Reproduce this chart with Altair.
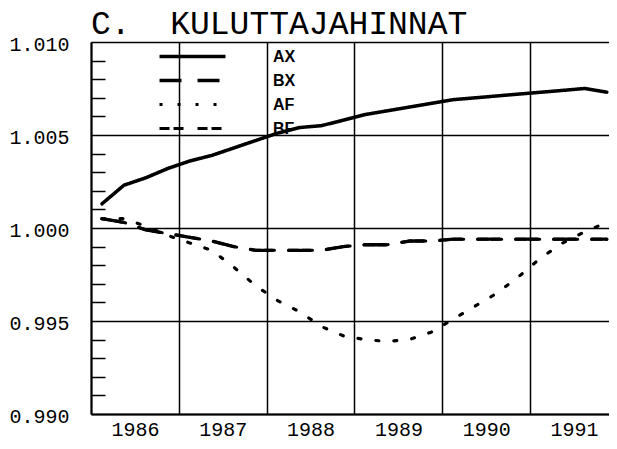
import altair as alt
import pandas as pd

# quarterly observation times (mid-quarter), 1986Q1 .. 1991Q4
periods = [1986.125, 1986.375, 1986.625, 1986.875,
           1987.125, 1987.375, 1987.625, 1987.875,
           1988.125, 1988.375, 1988.625, 1988.875,
           1989.125, 1989.375, 1989.625, 1989.875,
           1990.125, 1990.375, 1990.625, 1990.875,
           1991.125, 1991.375, 1991.625, 1991.875]

series = ["AX", "BX", "AF", "BF"]

ax = [1.0013, 1.0023, 1.0027, 1.0032, 1.0036, 1.0039, 1.0043, 1.0047,
      1.0051, 1.0054, 1.0055, 1.0058, 1.0061, 1.0063, 1.0065, 1.0067,
      1.0069, 1.0070, 1.0071, 1.0072, 1.0073, 1.0074, 1.0075, 1.0073]
bx = [1.0005, 1.0003, 0.9999, 0.9997, 0.9995, 0.9993, 0.9990, 0.9988,
      0.9988, 0.9988, 0.9988, 0.9990, 0.9991, 0.9991, 0.9993, 0.9993,
      0.9994, 0.9994, 0.9994, 0.9994, 0.9994, 0.9994, 0.9994, 0.9994]
af = [1.0005, 1.0005, 1.0001, 0.9996, 0.9992, 0.9988, 0.9979, 0.9969,
      0.9961, 0.9955, 0.9947, 0.9942, 0.9940, 0.9939, 0.9940, 0.9944,
      0.9951, 0.9958, 0.9965, 0.9974, 0.9984, 0.9992, 0.9998, 1.0003]
bf = [1.0005, 1.0003, 0.9999, 0.9997, 0.9995, 0.9993, 0.9990, 0.9988,
      0.9988, 0.9988, 0.9988, 0.9990, 0.9991, 0.9991, 0.9993, 0.9993,
      0.9994, 0.9994, 0.9994, 0.9994, 0.9994, 0.9994, 0.9994, 0.9994]

year_ticks = [1986, 1987, 1988, 1989, 1990, 1991]
y_major = [0.990, 0.995, 1.000, 1.005, 1.010]
y_minor = [0.991, 0.992, 0.993, 0.994, 0.996, 0.997, 0.998, 0.999,
           1.001, 1.002, 1.003, 1.004, 1.006, 1.007, 1.008, 1.009]

rows = []
for name, vals in zip(series, [ax, bx, af, bf]):
    for t, v in zip(periods, vals):
        rows.append({"t": t, "v": v, "series": name})
df = pd.DataFrame(rows)

W, H = 518, 372
MONO = "Liberation Mono"

xscale = alt.Scale(domain=[1986, 1991.9], nice=False, zero=False)
yscale = alt.Scale(domain=[0.990, 1.010], nice=False, zero=False)

x_enc = alt.X("t:Q", scale=xscale, axis=alt.Axis(
    values=year_ticks, format="d", labelOffset=44, ticks=False, tickSize=0,
    grid=True, gridColor="black", gridWidth=1.5, gridOpacity=1,
    domainColor="black", domainWidth=2, labelFont=MONO, labelFontSize=20,
    labelColor="black", labelPadding=5, title=None, labelFlush=False,
    labelOverlap=False))

base = alt.Chart(df)

lines = base.mark_line(color="black", strokeCap="round", strokeJoin="round").encode(
    x=x_enc,
    y=alt.Y("v:Q", scale=yscale, axis=alt.Axis(
        values=y_major, format=".3f", ticks=False, tickSize=0,
        grid=True, gridColor="black", gridWidth=1.5, gridOpacity=1,
        domainColor="black", domainWidth=2, labelFont=MONO, labelFontSize=20,
        labelColor="black", labelPadding=22, labelOffset=2, title=None,
        labelFlush=False, labelOverlap=False)),
    strokeDash=alt.StrokeDash("series:N", scale=alt.Scale(
        domain=series, range=[[1, 0], [22, 16], [3, 15], [10, 4, 10, 14]]),
        legend=alt.Legend(title=None, orient="none", legendX=93, legendY=6,
                          symbolType="M-5,0H5", symbolSize=174,
                          symbolStrokeWidth=2.5, symbolStrokeColor="black",
                          symbolFillColor="transparent",
                          labelFont="Liberation Sans", labelFontWeight="bold",
                          labelFontSize=16, labelColor="black",
                          labelOffset=72, rowPadding=7, padding=0)),
    strokeWidth=alt.StrokeWidth("series:N", scale=alt.Scale(
        domain=series, range=[3.5, 3, 4, 3]), legend=None),
    detail="series:N",
)

minor = base.mark_line(strokeOpacity=0).encode(
    x=x_enc,
    y=alt.Y("v:Q", scale=yscale, axis=alt.Axis(
        orient="right", offset=-W, values=y_minor, labels=False, domain=False,
        grid=False, ticks=True, tickSize=14, tickColor="black", tickWidth=1.5,
        title=None)),
    detail="series:N",
)

chart = alt.layer(lines, minor).resolve_axis(y="independent").properties(
    width=W, height=H,
    padding={"left": 0, "top": 0, "right": 0, "bottom": 5},
    title=alt.TitleParams("C.\u00a0\u00a0KULUTTAJAHINNAT", anchor="start",
                          frame="group", font=MONO, fontSize=33,
                          fontWeight="normal", color="black", offset=-7),
).configure_view(stroke=None).configure(background="white")

chart.save("out.html", embed_options={"renderer": "svg", "actions": False})
